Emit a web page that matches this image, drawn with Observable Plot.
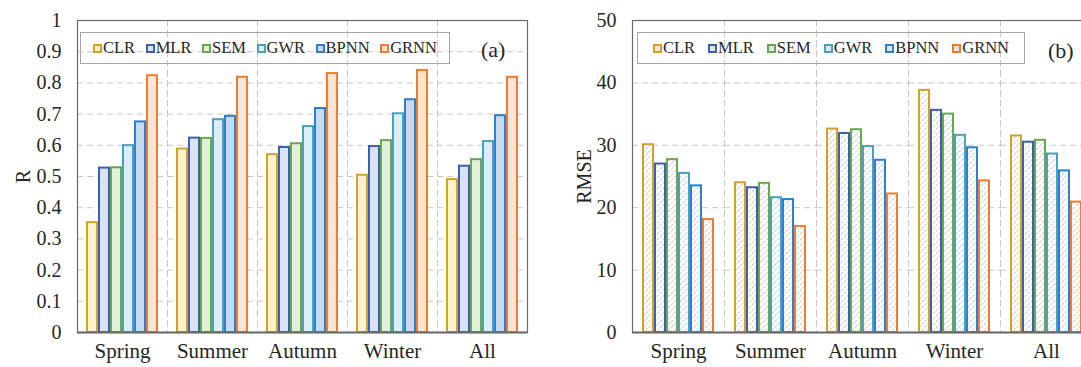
<!DOCTYPE html>
<html><head><meta charset="utf-8">
<script src="https://cdn.jsdelivr.net/npm/d3@7"></script>
<script src="https://cdn.jsdelivr.net/npm/@observablehq/plot@0.6"></script>
<style>
body{margin:0;background:#fff;}
#wrap{position:relative;width:1081px;height:367px;overflow:hidden;font-family:"Liberation Serif","Times New Roman",serif;color:#262626;}
.panel{position:absolute;top:0;}
.legend{position:absolute;border:1px solid #a6a6a6;display:flex;justify-content:space-between;align-items:center;box-sizing:border-box;font-size:16.5px;color:#262626;}
.item{display:flex;align-items:center;}
.sw{width:5px;height:5px;border:2px solid;margin-right:1px;box-sizing:content-box;}
.tag{position:absolute;font-size:22px;color:#262626;line-height:1;}
</style></head><body><div id="wrap"></div>
<script>
const categories = ["Spring","Summer","Autumn","Winter","All"];
const models = ["CLR","MLR","SEM","GWR","BPNN","GRNN"];
const strokeColors = ["#d1a328","#3c5fae","#6aa84f","#4aa0bd","#2b80d0","#ee7d31"];
const pastelFills = ["#fff2cc","#dae3f3","#e2f0d9","#dcedf4","#c7daf1","#fde5d5"];

// R per model across categories (Spring, Summer, Autumn, Winter, All)
const rCLR  = [0.352, 0.588, 0.570, 0.504, 0.490];
const rMLR  = [0.527, 0.623, 0.593, 0.596, 0.533];
const rSEM  = [0.528, 0.622, 0.605, 0.615, 0.554];
const rGWR  = [0.599, 0.682, 0.660, 0.701, 0.612];
const rBPNN = [0.675, 0.693, 0.718, 0.746, 0.695];
const rGRNN = [0.823, 0.818, 0.830, 0.840, 0.818];

// RMSE per model across categories
const eCLR  = [30.1, 24.0, 32.6, 38.8, 31.5];
const eMLR  = [27.0, 23.2, 31.9, 35.6, 30.5];
const eSEM  = [27.7, 23.9, 32.5, 35.0, 30.8];
const eGWR  = [25.5, 21.6, 29.8, 31.6, 28.6];
const eBPNN = [23.5, 21.3, 27.6, 29.6, 25.9];
const eGRNN = [18.1, 17.0, 22.2, 24.3, 20.9];

const rTicks = [0, 0.1, 0.2, 0.3, 0.4, 0.5, 0.6, 0.7, 0.8, 0.9, 1];
const rmseTicks = [0, 10, 20, 30, 40, 50];

const rSeries = [rCLR, rMLR, rSEM, rGWR, rBPNN, rGRNN];
const eSeries = [eCLR, eMLR, eSEM, eGWR, eBPNN, eGRNN];

function table(series) {
  return categories.flatMap((c, i) => models.map((m, j) => ({category: c, model: m, value: series[j][i]})));
}

function panel({series, ticks, label, hatch, width, marginLeft, marginRight, labelOffset}) {
  const data = table(series);
  const idx = m => models.indexOf(m);
  const svg = Plot.plot({
    width, height: 367, marginLeft, marginRight, marginTop: 20, marginBottom: 35,
    style: {fontFamily: "'Liberation Serif', 'Times New Roman', serif", fontSize: "20px", color: "#262626", background: "transparent", overflow: "visible"},
    fx: {domain: categories, padding: 0},
    x: {domain: models, paddingInner: 0.13, paddingOuter: 0.78, axis: null},
    y: {domain: [ticks[0], ticks[ticks.length - 1]], axis: null},
    color: {type: "identity"},
    marks: [
      Plot.gridY(ticks, {stroke: "#c8c8c8", strokeOpacity: 1, strokeDasharray: "6,4"}),
      Plot.frame({anchor: "left", stroke: "#c8c8c8", strokeDasharray: "6,4"}),
      Plot.barY(data, {
        fx: "category", x: "model", y: "value",
        fill: hatch ? "url(#hatch)" : d => pastelFills[idx(d.model)],
        stroke: d => strokeColors[idx(d.model)],
        strokeWidth: 2
      }),
      Plot.frame({facet: "super", stroke: "#6b6b6b", strokeWidth: 1.2}),
      Plot.ruleY([ticks[0]], {stroke: "#6b6b6b", strokeWidth: 2}),
      Plot.axisY(ticks, {anchor: "left", facetAnchor: "left", tickSize: 0, tickPadding: 16, tickFormat: d => String(d),
        label, labelAnchor: "center", labelOffset, labelArrow: "none", fontSize: 20}),
      Plot.axisFx({anchor: "bottom", tickSize: 0, tickPadding: 11, fontSize: 21, label: null})
    ]
  });
  if (hatch) {
    const defs = d3.select(svg).insert("defs", ":first-child");
    const p = defs.append("pattern").attr("id", "hatch").attr("patternUnits", "userSpaceOnUse")
      .attr("width", 4).attr("height", 4).attr("patternTransform", "rotate(45)");
    p.append("rect").attr("width", 4).attr("height", 4).attr("fill", "#ffffff");
    p.append("line").attr("x1", 0).attr("y1", 0).attr("x2", 0).attr("y2", 4)
      .attr("stroke", "#9e9e9e").attr("stroke-width", 1.1).attr("stroke-dasharray", "3,1");
  }
  return svg;
}

const wrap = document.getElementById("wrap");

function addPanel(node, left, w) {
  const div = document.createElement("div");
  div.className = "panel";
  div.style.left = left + "px";
  div.style.width = w + "px";
  div.appendChild(node);
  wrap.appendChild(div);
}

addPanel(panel({series: rSeries, ticks: rTicks, label: "R", hatch: false, width: 540, marginLeft: 77, marginRight: 13, labelOffset: 62}), 0, 540);
addPanel(panel({series: eSeries, ticks: rmseTicks, label: "RMSE", hatch: true, width: 552, marginLeft: 92, marginRight: 0, labelOffset: 56}), 540, 552);

function legend(left, top, w, h, pad, hatch) {
  const lg = document.createElement("div");
  lg.className = "legend";
  Object.assign(lg.style, {left: left + "px", top: top + "px", width: w + "px", height: h + "px", padding: `0 ${pad}px`});
  models.forEach((m, j) => {
    const it = document.createElement("div");
    it.className = "item";
    const sw = document.createElement("span");
    sw.className = "sw";
    sw.style.borderColor = strokeColors[j];
    sw.style.background = hatch ? "#e6e6e6" : pastelFills[j];
    const tx = document.createElement("span");
    tx.textContent = m;
    it.appendChild(sw); it.appendChild(tx);
    lg.appendChild(it);
  });
  wrap.appendChild(lg);
}
legend(80, 32, 370, 32, 12, false);
legend(637, 32, 388, 32, 15, true);

function tag(text, cx, cy) {
  const t = document.createElement("div");
  t.className = "tag";
  t.textContent = text;
  wrap.appendChild(t);
  t.style.left = (cx - t.offsetWidth / 2) + "px";
  t.style.top = (cy - t.offsetHeight / 2) + "px";
}
tag("(a)", 493, 50);
tag("(b)", 1061, 51);
</script></body></html>
